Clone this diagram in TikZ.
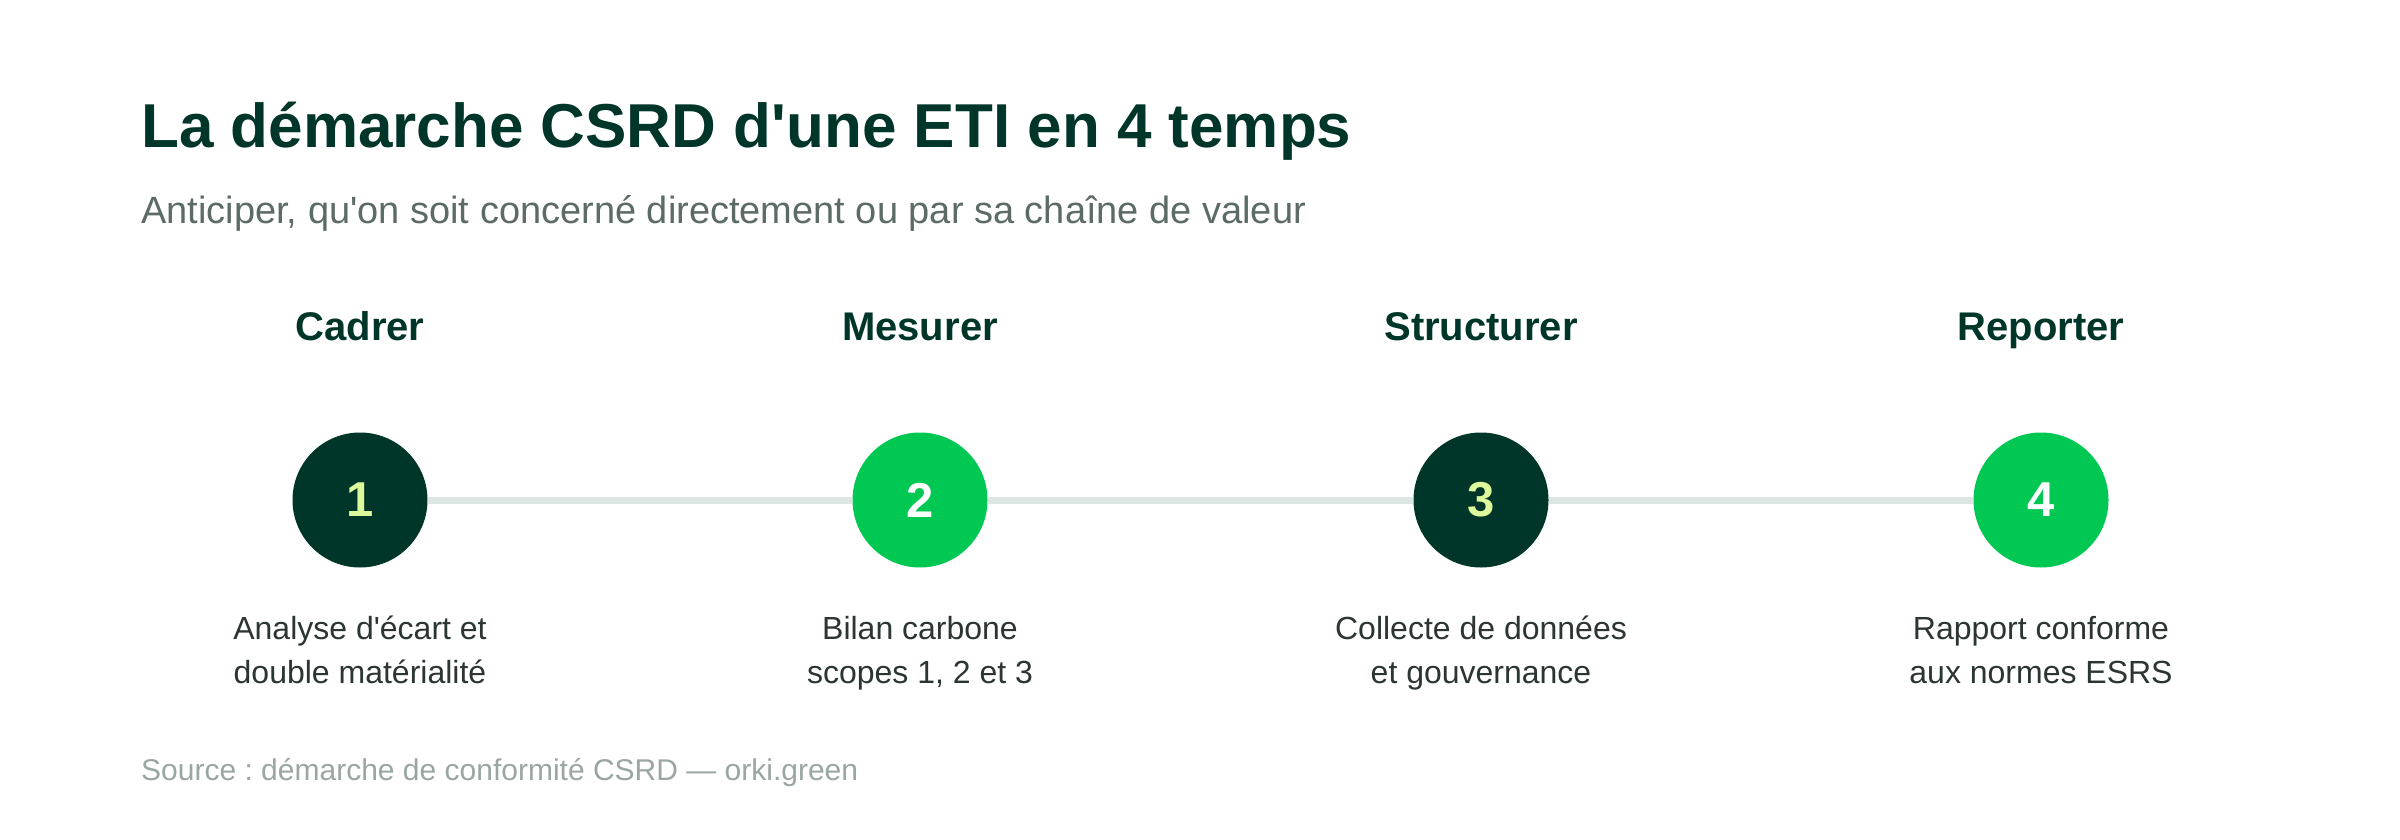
\documentclass[tikz,border=0pt]{standalone}
\usepackage{fontspec}
\setmainfont{Liberation Sans}[Ligatures=TeXOff]
\usetikzlibrary{calc}
\definecolor{foret}{HTML}{003629}
\definecolor{vif}{HTML}{00C853}
\definecolor{citron}{HTML}{DDF99B}
\definecolor{trait}{HTML}{DDE5E2}
\definecolor{grisfonce}{HTML}{2B3532}
\definecolor{grismoyen}{HTML}{5C6B66}
\definecolor{grisclair}{HTML}{9AA6A2}
\newcommand{\taille}[2]{\fontsize{#1}{#2}\selectfont}
\newcommand{\chiffre}[1]{\raisebox{-4pt}{#1}}
\frenchspacing

\begin{document}
\begin{tikzpicture}[x=1pt,y=-1pt,
pastille/.style={circle,minimum size=135pt,inner sep=0pt,text=white,font=\taille{49}{58}\bfseries},
titre-etape/.style={anchor=base,text=foret,font=\taille{40}{48}\bfseries},
texte-etape/.style={anchor=north,align=center,inner sep=0pt,text=grisfonce,font=\taille{32}{44}},
]
\useasboundingbox[fill=white] (0,0) rectangle (2400,840);

\pgfmathsetmacro{\ligne}{500}

\node[anchor=base west,inner sep=0pt,text=foret,font=\taille{62}{74}\bfseries] (titre) at (141,147){La démarche CSRD d'une ETI en 4 temps};
\node[anchor=base west,inner sep=0pt,text=grismoyen,font=\taille{38}{46}] (soustitre) at (141,223){Anticiper, qu'on soit concerné directement ou par sa chaîne de valeur};

\node[titre-etape](cadrer) at (360,340){Cadrer};
\node[titre-etape](mesurer) at (920,340){Mesurer};
\node[titre-etape](structurer) at (1481,340){Structurer};
\node[titre-etape](reporter) at (2041,340){Reporter};

\node[pastille,fill=foret,text=citron](p1) at (360,\ligne){\chiffre{1}};
\node[pastille,fill=vif](p2) at (920,\ligne){\chiffre{2}};
\node[pastille,fill=foret,text=citron](p3) at (1481,\ligne){\chiffre{3}};
\node[pastille,fill=vif](p4) at (2041,\ligne){\chiffre{4}};

\begin{scope}[line width=7pt, trait]
\draw (p1)--(p2);
\draw (p2)--(p3);
\draw (p3)--(p4);
\end{scope}

\node[texte-etape](t1) at (360,616){Analyse d'écart et\\double matérialité};
\node[texte-etape](t2) at (920,616){Bilan carbone\\scopes 1, 2 et 3};
\node[texte-etape](t3) at (1481,616){Collecte de données\\et gouvernance};
\node[texte-etape](t4) at (2041,616){Rapport conforme\\aux normes ESRS};

\node[anchor=base west,inner sep=0pt,text=grisclair,font=\taille{30}{36}] (source) at (141,780){Source : démarche de conformité CSRD — orki.green};

\end{tikzpicture}
\end{document}
